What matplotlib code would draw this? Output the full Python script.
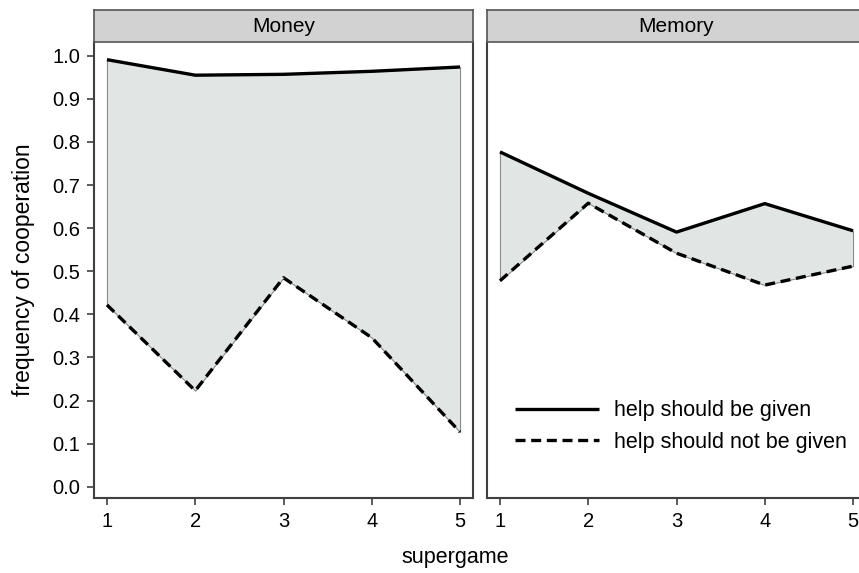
import matplotlib
matplotlib.use('Agg')
from matplotlib import pyplot as plt

plt.rcParams['font.family'] = ['Liberation Sans', 'DejaVu Sans']

supergame = [1, 2, 3, 4, 5]
panels = ['Money', 'Memory']
# help should be given / help should not be given
money_given = [0.991, 0.955, 0.957, 0.964, 0.974]
money_not_given = [0.422, 0.223, 0.485, 0.346, 0.127]
memory_given = [0.777, 0.681, 0.591, 0.657, 0.594]
memory_not_given = [0.478, 0.658, 0.542, 0.468, 0.512]

series = {
    'Money': (money_given, money_not_given),
    'Memory': (memory_given, memory_not_given),
}

fig = plt.figure(figsize=(8.59, 5.73), dpi=100)
W, H = 859, 573

frame_col = '#404040'
fill_col = '#e1e6e4'
head_col = '#d2d2d2'
fs = 15

lefts = [94, 487]
for k, name in enumerate(panels):
    x0 = lefts[k]
    ax = fig.add_axes([x0 / W, 1 - 498 / H, 379 / W, 456 / H])
    hd = fig.add_axes([x0 / W, 1 - 42 / H, 379 / W, 32 / H])
    hd.set_facecolor(head_col)
    hd.set_xticks([])
    hd.set_yticks([])
    for s in hd.spines.values():
        s.set_color('#555555')
        s.set_linewidth(1.2)
    hd.text(0.5, 0.48, name, ha='center', va='center', fontsize=fs,
            transform=hd.transAxes)

    given, not_given = series[name]
    ax.fill_between(supergame, not_given, given, facecolor=fill_col,
                    edgecolor='#8a8a8a', linewidth=0.8, zorder=1)
    ax.plot(supergame, given, color='black', lw=2.4, solid_capstyle='butt',
            label='help should be given', zorder=3)
    ax.plot(supergame, not_given, color='black', lw=2.4, dashes=(3.0, 1.7),
            label='help should not be given', zorder=3)

    ax.set_xlim(0.853, 5.147)
    ax.set_ylim(-0.026, 1.032)
    ax.set_xticks(supergame)
    ax.tick_params(axis='both', direction='out', length=5, width=1.2,
                   color=frame_col, labelsize=fs - 0.5, pad=5)
    for side in ['top', 'right']:
        ax.spines[side].set_visible(False)
    for side in ['left', 'bottom']:
        ax.spines[side].set_color(frame_col)
        ax.spines[side].set_linewidth(1.5)
    if k == 0:
        ax.set_yticks([i / 10 for i in range(11)])
        ax.set_yticklabels(['%.1f' % (i / 10) for i in range(11)])
        ax.set_ylabel('frequency of cooperation', fontsize=fs + 1.5, labelpad=12)
        ax.spines['right'].set_visible(True)
        ax.spines['right'].set_color(frame_col)
        ax.spines['right'].set_linewidth(1.5)
    else:
        ax.set_yticks([])
        ax.legend(loc='upper left', bbox_to_anchor=(0.074, 0.214), frameon=False,
                  fontsize=fs + 0.5, handlelength=3.9, handletextpad=0.7,
                  labelspacing=0.48, borderaxespad=0, borderpad=0)

fig.text(455 / W, 1 - 558 / H, 'supergame', ha='center', va='center', fontsize=fs + 0.5)

fig.savefig('out.png', dpi=100)
